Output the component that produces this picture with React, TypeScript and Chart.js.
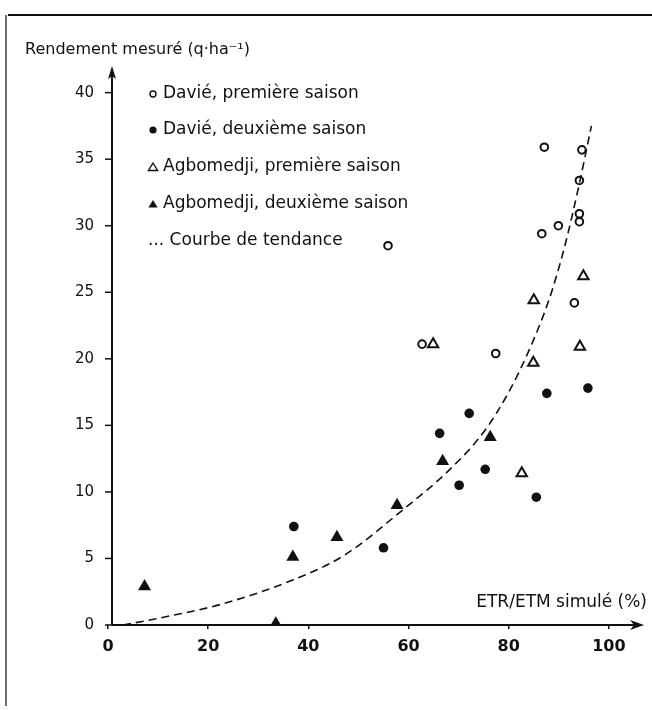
import React, { useEffect, useRef } from "react";
import { Chart, registerables } from "chart.js";

Chart.register(...registerables);

// ---- Data ----
const xTicks = [0, 20, 40, 60, 80, 100];
const yTicks = [0, 5, 10, 15, 20, 25, 30, 35, 40];

const yTitle = "Rendement mesuré (q·ha⁻¹)";
const xTitle = "ETR/ETM simulé (%)";

const legendLabels = [
  "Davié, première saison",
  "Davié, deuxième saison",
  "Agbomedji, première saison",
  "Agbomedji, deuxième saison",
  "... Courbe de tendance",
];

// Davié, première saison (open circles)
const davie1X = [87.1, 94.6, 94.1, 94.1, 94.1, 89.9, 86.6, 93.1, 55.9, 62.7, 77.4];
const davie1Y = [35.9, 35.7, 33.4, 30.9, 30.3, 30.0, 29.4, 24.2, 28.5, 21.1, 20.4];

// Davié, deuxième saison (filled circles)
const davie2X = [87.6, 95.8, 72.1, 66.2, 75.3, 70.1, 37.1, 55.0, 85.5];
const davie2Y = [17.4, 17.8, 15.9, 14.4, 11.7, 10.5, 7.4, 5.8, 9.6];

// Agbomedji, première saison (open triangles)
const agbo1X = [94.9, 85.0, 64.9, 84.9, 94.2, 82.6];
const agbo1Y = [26.2, 24.4, 21.1, 19.7, 20.9, 11.4];

// Agbomedji, deuxième saison (filled triangles)
const agbo2X = [76.3, 66.8, 57.7, 45.7, 36.9, 7.3, 33.5];
const agbo2Y = [14.1, 12.3, 9.0, 6.6, 5.1, 2.9, 0.1];

// Courbe de tendance (dashed)
const trendX = [3, 10, 23, 37, 47, 59, 68, 75, 80, 84, 88, 91, 94, 96.5];
const trendY = [0, 0.5, 1.6, 3.4, 5.2, 8.7, 11.6, 14.5, 17.5, 20.6, 24.4, 28.2, 33.0, 37.5];

const toPts = (xs: number[], ys: number[]) => xs.map((x, i) => ({ x, y: ys[i] }));

const INK = "#111";
const FONT = "DejaVu Sans";

const decorPlugin = {
  id: "decor",
  afterDraw(chart: any) {
    const ctx = chart.ctx as CanvasRenderingContext2D;
    const xs = chart.scales.x;
    const ys = chart.scales.y;
    ctx.save();

    // frame lines of the original figure
    ctx.strokeStyle = INK;
    ctx.lineWidth = 2;
    ctx.beginPath();
    ctx.moveTo(8, 15);
    ctx.lineTo(652, 15);
    ctx.stroke();
    ctx.lineWidth = 1.2;
    ctx.beginPath();
    ctx.moveTo(6, 15);
    ctx.lineTo(6, 706);
    ctx.stroke();

    // axes
    const ax = xs.getPixelForValue(0) + 4;
    const ay = ys.getPixelForValue(0);
    const yTop = ys.getPixelForValue(ys.max);
    const xEnd = xs.getPixelForValue(xs.max);
    ctx.lineWidth = 2;
    ctx.beginPath();
    ctx.moveTo(ax, ay);
    ctx.lineTo(ax, yTop + 6);
    ctx.moveTo(ax, ay);
    ctx.lineTo(xEnd - 6, ay);
    ctx.stroke();
    ctx.fillStyle = INK;
    // y arrow
    ctx.beginPath();
    ctx.moveTo(ax, yTop);
    ctx.lineTo(ax - 4, yTop + 13);
    ctx.lineTo(ax, yTop + 10);
    ctx.lineTo(ax + 4, yTop + 13);
    ctx.closePath();
    ctx.fill();
    // x arrow
    ctx.beginPath();
    ctx.moveTo(xEnd, ay);
    ctx.lineTo(xEnd - 14, ay - 5);
    ctx.lineTo(xEnd - 10, ay);
    ctx.lineTo(xEnd - 14, ay + 5);
    ctx.closePath();
    ctx.fill();

    // y tick marks
    ctx.lineWidth = 1.5;
    yTicks.forEach((v) => {
      const py = ys.getPixelForValue(v);
      ctx.beginPath();
      ctx.moveTo(ax - 7, py);
      ctx.lineTo(ax, py);
      ctx.stroke();
    });

    // titles
    ctx.fillStyle = INK;
    ctx.textBaseline = "middle";
    ctx.textAlign = "left";
    ctx.font = `16px "${FONT}"`;
    ctx.fillText(yTitle, 25, 50);
    ctx.textAlign = "right";
    ctx.font = `17px "${FONT}"`;
    ctx.fillText(xTitle, 647, 603);

    // legend
    const rows = [94, 130, 167, 204, 241];
    const mx = 153;
    const tx = 163;
    ctx.textAlign = "left";
    legendLabels.forEach((label, i) => {
      const y = rows[i];
      ctx.lineWidth = 1.4;
      if (i === 0) {
        ctx.beginPath();
        ctx.arc(mx, y, 3, 0, Math.PI * 2);
        ctx.stroke();
      } else if (i === 1) {
        ctx.beginPath();
        ctx.arc(mx, y, 3.6, 0, Math.PI * 2);
        ctx.fill();
      } else if (i === 2 || i === 3) {
        ctx.beginPath();
        ctx.moveTo(mx, y - 4);
        ctx.lineTo(mx + 4.6, y + 3.5);
        ctx.lineTo(mx - 4.6, y + 3.5);
        ctx.closePath();
        if (i === 2) ctx.stroke();
        else ctx.fill();
      }
      ctx.fillText(label, i === 4 ? 148 : tx, y);
    });

    ctx.restore();
  },
};

export default function App() {
  const ref = useRef<HTMLCanvasElement | null>(null);

  useEffect(() => {
    if (!ref.current) return;
    const chart = new Chart(ref.current, {
      type: "scatter",
      data: {
        datasets: [
          {
            label: legendLabels[4],
            data: toPts(trendX, trendY),
            showLine: true,
            borderColor: INK,
            borderWidth: 1.6,
            borderDash: [8, 5],
            pointRadius: 0,
            tension: 0.4,
            cubicInterpolationMode: "monotone",
            fill: false,
          },
          {
            label: legendLabels[0],
            data: toPts(davie1X, davie1Y),
            pointStyle: "circle",
            pointRadius: 3.8,
            borderWidth: 2,
            borderColor: INK,
            backgroundColor: "#fff",
          },
          {
            label: legendLabels[1],
            data: toPts(davie2X, davie2Y),
            pointStyle: "circle",
            pointRadius: 4.8,
            borderWidth: 0,
            borderColor: INK,
            backgroundColor: INK,
          },
          {
            label: legendLabels[2],
            data: toPts(agbo1X, agbo1Y),
            pointStyle: "triangle",
            pointRadius: 6,
            borderWidth: 2,
            borderColor: INK,
            backgroundColor: "#fff",
          },
          {
            label: legendLabels[3],
            data: toPts(agbo2X, agbo2Y),
            pointStyle: "triangle",
            pointRadius: 7.5,
            borderWidth: 0,
            borderColor: INK,
            backgroundColor: INK,
          },
        ],
      },
      options: {
        animation: false,
        responsive: false,
        devicePixelRatio: 1,
        layout: { padding: { top: 66, right: 8, left: 0, bottom: 0 } },
        plugins: {
          legend: { display: false },
          tooltip: { enabled: false },
          title: { display: false },
        },
        scales: {
          x: {
            type: "linear",
            min: 0,
            max: 107,
            afterBuildTicks: (s: any) => {
              s.ticks = xTicks.map((v) => ({ value: v }));
            },
            afterFit: (s: any) => {
              s.height = 85;
            },
            border: { display: false },
            grid: {
              display: true,
              drawOnChartArea: false,
              drawTicks: true,
              tickLength: 4,
              color: INK,
              lineWidth: 1.5,
            },
            ticks: {
              color: INK,
              padding: 8,
              maxRotation: 0,
              font: { family: FONT, size: 16, weight: "bold" },
            },
          },
          y: {
            type: "linear",
            min: 0,
            max: 42,
            afterBuildTicks: (s: any) => {
              s.ticks = yTicks.map((v) => ({ value: v }));
            },
            afterFit: (s: any) => {
              s.width = 108;
            },
            border: { display: false },
            grid: { display: false },
            ticks: {
              color: INK,
              padding: 6,
              font: { family: FONT, size: 15 },
            },
          },
        },
      },
      plugins: [decorPlugin],
    });
    return () => chart.destroy();
  }, []);

  return (
    <div style={{ position: "absolute", left: 0, top: 0, width: 652, height: 710, background: "#fff" }}>
      <canvas ref={ref} width={652} height={710} style={{ display: "block" }} />
    </div>
  );
}
